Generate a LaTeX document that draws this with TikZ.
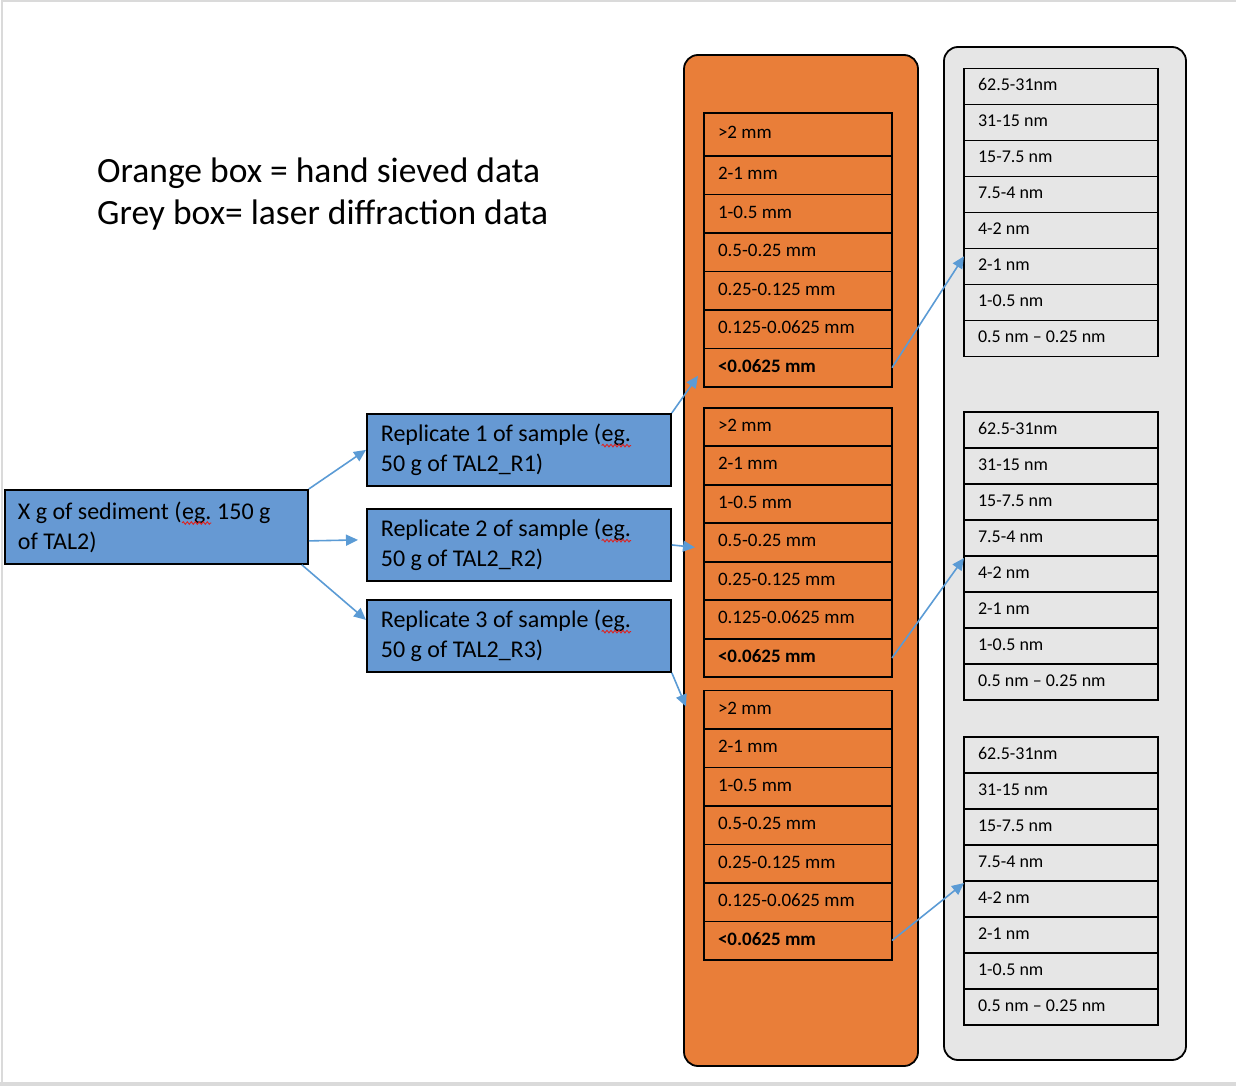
\documentclass[tikz,border=0pt]{standalone}
\usepackage{fontspec}
\setmainfont{Carlito}
\frenchspacing
\usetikzlibrary{arrows.meta,calc,matrix,decorations.pathmorphing}
\pgfdeclarelayer{background}
\pgfsetlayers{background,main}

\definecolor{sieveorange}{HTML}{E97E39}
\definecolor{lasergrey}{HTML}{E6E6E6}
\definecolor{sampleblue}{HTML}{6699D3}
\definecolor{linkblue}{HTML}{5B9BD5}
\definecolor{framegrey}{HTML}{DADADA}
\definecolor{spellred}{HTML}{E0201C}

% word with a wavy spell-check underline
\newcommand{\spellmark}[1]{\tikz[baseline=(word.base)]{\node[spellword] (word) {#1};
  \draw[spellred, line width=0.9pt, decorate, decoration={snake, amplitude=1.3pt, segment length=4pt}]
    ([yshift=-4pt]word.base west) -- ([yshift=-4pt]word.base east);}}

\tikzset{
  plainspace/.style={execute at begin node={\spaceskip=0pt\xspaceskip=0pt}},
  spellword/.style={inner sep=0pt, outer sep=0pt, minimum width=0pt, minimum height=0pt,
    text width={}, text height={}, text depth={}, draw=none, fill=none, align=none,
    execute at begin node={}},
  sieve/.style={matrix of nodes, anchor=north west, inner sep=0pt, row sep=-1.6pt,
    nodes={draw, line width=1.6pt, fill=sieveorange, outer sep=0pt, minimum height=38.5pt,
      text width=160pt, inner xsep=14pt, inner ysep=0pt, align=flush left, plainspace,
      text height=13pt, text depth=4pt, font=\fontsize{19}{22}\selectfont}},
  laser/.style={sieve, nodes={fill=lasergrey, minimum height=36pt, text width=166pt,
      font=\fontsize{18}{21}\selectfont}},
  sample/.style={draw, line width=1.8pt, fill=sampleblue, anchor=north west, text width=276pt,
    inner xsep=14pt, minimum height=72pt, align=flush left, plainspace,
    font=\fontsize{24}{30}\selectfont},
  link/.style={draw=linkblue, line width=1.6pt, -{Triangle[length=12pt,width=11pt]}},
  container/.style={draw, line width=1.8pt, rounded corners=14pt}
}

\begin{document}
\begin{tikzpicture}[x=1pt,y=-1pt]
  \useasboundingbox (0,0) rectangle (1236,1086);
  % page frame
  \draw[framegrey, line width=2pt] (1.5,1086) -- (1.5,1) -- (1236,1);
  \fill[framegrey] (0,1082) rectangle (1236,1086);

  \begin{pgfonlayer}{background}
    \draw[container, fill=sieveorange] (684,55) rectangle (918,1066);
    \draw[container, fill=lasergrey] (944,47) rectangle (1186,1060);
  \end{pgfonlayer}

  \node (key) [anchor=west, inner sep=0pt, align=left, font=\fontsize{35.5}{42}\selectfont] at (97,194)
    {Orange box = hand sieved data\\Grey box= laser diffraction data};

  % samples
  \node (sed) [sample, text width=277pt, inner xsep=13pt, minimum height=74pt] at (4,489)
    {X g of sediment (\spellmark{eg.} 150 g\\of TAL2)};
  \node (r1) [sample] at (366,413) {Replicate 1 of sample (\spellmark{eg.}\\50 g of TAL2\_R1)};
  \node (r2) [sample] at (366,508) {Replicate 2 of sample (\spellmark{eg.}\\50 g of TAL2\_R2)};
  \node (r3) [sample] at (366,599) {Replicate 3 of sample (\spellmark{eg.}\\50 g of TAL2\_R3)};

  % hand sieved fractions
  \foreach \grp/\top/\first in {1/111.7/43.3, 2/406.7/38.5, 3/689.3/38.5}
    \matrix (o\grp) [sieve, row 1/.style={nodes={minimum height=\first pt}}] at (703,\top)
    {
      >2 mm \\ 2-1 mm \\ 1-0.5 mm \\ 0.5-0.25 mm \\ 0.25-0.125 mm \\ 0.125-0.0625 mm \\
      \textbf{<0.0625 mm} \\
    };

  % laser diffraction fractions
  \foreach \grp/\top in {1/67.3, 2/411, 3/736}
    \matrix (g\grp) [laser] at (963,\top)
    {
      62.5-31nm \\ 31-15 nm \\ 15-7.5 nm \\ 7.5-4 nm \\ 4-2 nm \\ 2-1 nm \\ 1-0.5 nm \\
      0.5 nm -- 0.25 nm \\
    };

  \draw[link] (sed.north east) -- (r1.west);
  \draw[link] ([yshift=-14pt]sed.east) -- ([xshift=-8pt,yshift=5pt]r2.west);
  \draw[link] ([xshift=-7pt]sed.south east) -- ([yshift=16pt]r3.west);
  \draw[link] (r1.north east) -- ([xshift=-6pt,yshift=-8pt]o1-7-1.west);
  \draw[link] (r2.east) -- ([xshift=-9pt,yshift=-5pt]o2-4-1.west);
  \draw[link] (r3.south east) -- ([xshift=-18pt,yshift=3pt]o3-1-1.west);
  \draw[link] (o1-7-1.east) -- ([yshift=-8pt]g1-6-1.north west);
  \draw[link] (o2-7-1.east) -- ([yshift=-2pt]g2-5-1.north west);
  \draw[link] (o3-7-1.east) -- ([yshift=-2pt]g3-5-1.north west);
\end{tikzpicture}
\end{document}
